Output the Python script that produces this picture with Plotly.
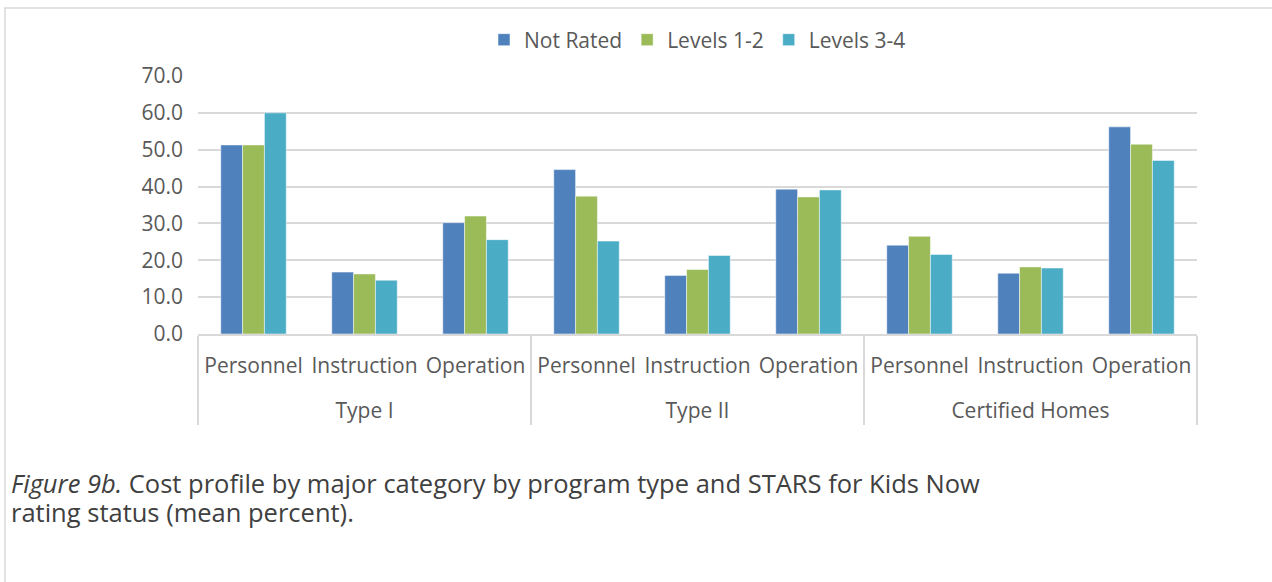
import plotly.graph_objects as go

groups = ["Type I"] * 3 + ["Type II"] * 3 + ["Certified Homes"] * 3
subcats = ["Personnel", "Instruction", "Operation"] * 3

not_rated = [51.3, 16.8, 30.2, 44.6, 15.9, 39.3, 24.1, 16.5, 56.2]
levels_12 = [51.3, 16.3, 32.0, 37.4, 17.5, 37.2, 26.5, 18.2, 51.5]
levels_34 = [60.0, 14.6, 25.6, 25.2, 21.3, 39.1, 21.6, 17.9, 47.1]

series = [
    ("Not Rated", not_rated, "#4F81BD"),
    ("Levels 1-2", levels_12, "#9BBB59"),
    ("Levels 3-4", levels_34, "#4BACC6"),
]

W, H = 1272, 582
L, R, T, B = 198, 75, 76, 248
pw, ph = W - L - R, H - T - B

# push the group row down a line, like the Excel layout
group_labels = ["<br>" + g for g in groups]

fig = go.Figure()
for name, vals, color in series:
    fig.add_trace(go.Bar(
        x=[group_labels, subcats], y=vals, name=name,
        marker_color=color, marker_line_color="white", marker_line_width=0.5,
    ))

font = "Open Sans"
fig.update_layout(
    width=W, height=H,
    margin=dict(l=L, r=R, t=T, b=B),
    paper_bgcolor="white", plot_bgcolor="white",
    barmode="group", bargap=0.41, bargroupgap=0,
    font=dict(family=font, size=21, color="#595959"),
    legend=dict(orientation="h", x=0.5, xanchor="center", y=1.0 + 36 / ph,
                yanchor="middle", font=dict(size=21, color="#595959"),
                itemwidth=30, traceorder="normal"),
    yaxis=dict(range=[0, 70], dtick=10, tickformat=".1f", showgrid=True,
               gridcolor="#d9d9d9", gridwidth=1.5, zeroline=False,
               ticks="", tickfont=dict(size=21), ticklabelstandoff=14,
               automargin=False),
    xaxis=dict(type="multicategory", showline=True, linecolor="#d9d9d9",
               linewidth=1.5, showdividers=True, dividercolor="#d9d9d9",
               dividerwidth=1.5, ticks="", tickfont=dict(size=21),
               tickangle=0, ticklabelstandoff=12, automargin=False),
)


def px(x):
    return (x - L) / pw


def py(y):
    return (H - B - y) / ph


# outer chart border
fig.add_shape(type="rect", xref="paper", yref="paper",
              x0=px(5), x1=px(1290), y0=py(8), y1=py(600),
              line=dict(color="#d9d9d9", width=1.5), fillcolor="rgba(0,0,0,0)")

caption = [
    "<i>Figure 9b.</i> Cost profile by major category by program type and STARS for Kids Now",
    "rating status (mean percent).",
]
for i, line in enumerate(caption):
    fig.add_annotation(
        xref="paper", yref="paper", x=px(9), y=py(483 + 29 * i), xanchor="left",
        yanchor="middle", align="left", showarrow=False, text=line,
        font=dict(family=font, size=25.5, color="#404040"),
    )

fig.write_html("out.html", config={"displayModeBar": False},
               post_script="document.body.style.margin='0px';")
